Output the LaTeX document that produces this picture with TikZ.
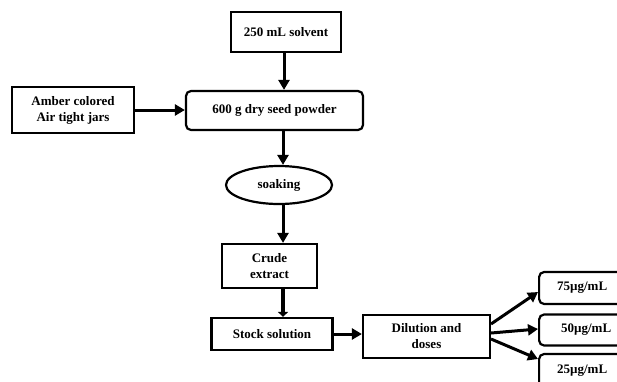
\documentclass[tikz,border=0pt]{standalone}
\usepackage{fontspec}
\setmainfont{Liberation Serif}
\usetikzlibrary{shapes.geometric,arrows.meta}
\begin{document}
\begin{tikzpicture}[x=1pt,y=-1pt,
  box/.style={draw,line width=2.2pt,align=center,inner sep=2pt,font=\fontsize{13}{16}\selectfont\bfseries},
  rbox/.style={box,rounded corners=5pt},
  arr/.style={line width=3pt,-{Triangle[length=10pt,width=11pt]}}]
\clip (0,0) rectangle (617,381);
\useasboundingbox (0,0) rectangle (617,381);
\node[box,minimum width=110pt,minimum height=40pt] (solv) at (286,32) {250 mL solvent};
\node[box,minimum width=122pt,minimum height=46pt] (amber) at (73,110) {Amber colored\\Air tight jars};
\node[rbox,minimum width=177pt,minimum height=39pt] (powder) at (274.5,110.5) {600 g dry seed powder};
\node[box,ellipse,minimum width=106pt,minimum height=38pt,inner sep=0pt] (soak) at (279,185) {soaking};
\node[box,minimum width=95pt,minimum height=44pt] (crude) at (269.5,266) {Crude\\extract};
\node[box,minimum width=121pt,minimum height=32pt] (stock) at (272,334) {Stock solution};
\node[box,minimum width=127pt,minimum height=43pt] (dil) at (426.5,336.5) {Dilution and\\doses};
\node[rbox,minimum width=110pt,minimum height=32pt,anchor=west,text width=90pt,align=left] (c75) at (538,288) {\hspace*{8pt}75µg/mL};
\node[rbox,minimum width=110pt,minimum height=31pt,anchor=west,text width=90pt,align=left] (c50) at (538,330) {\hspace*{12pt}50µg/mL};
\node[rbox,minimum width=110pt,minimum height=34pt,anchor=west,text width=90pt,align=left] (c25) at (538,371) {\hspace*{8pt}25µg/mL};
\draw[arr] (solv.south -| 284,0) -- (powder.north -| 284,0);
\draw[arr] (amber.east) -- (powder.west |- amber.east);
\draw[arr] (powder.south -| 283,0) -- (soak.north -| 283,0);
\draw[arr] (soak.south -| 283,0) -- (crude.north -| 283,0);
\draw[line width=4.5pt,-{Triangle[length=5pt,width=10pt]}] (crude.south -| 283,0) -- (stock.north -| 283,0);
\draw[arr] (stock.east) -- (dil.west |- stock.east);
\coordinate (d1) at (491,324);
\coordinate (d2) at (491,333);
\coordinate (d3) at (491,339);
\draw[arr] (d1) -- (c75.west |- 0,292);
\draw[arr] (d2) -- (c50.west |- 0,329);
\draw[arr] (d3) -- (c25.west |- 0,359);
\end{tikzpicture}
\end{document}
